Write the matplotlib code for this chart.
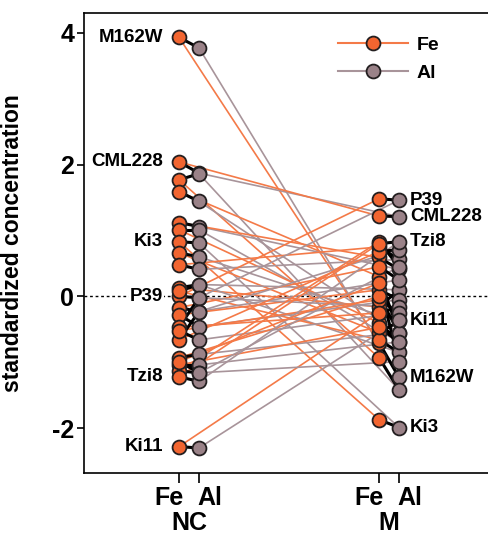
import matplotlib.pyplot as plt
import matplotlib.transforms as mtransforms
from matplotlib.lines import Line2D

plt.rcParams['font.family'] = ['Liberation Sans', 'DejaVu Sans']
plt.rcParams['font.weight'] = 'bold'

# one entry per line (inbred line), '' = not labelled
names = ['M162W', 'CML228', '', '', '', '', 'Ki3', '', '', '', 'P39', '', '',
         '', '', '', '', '', '', '', 'Tzi8', 'Ki11', '']
nc_fe = [3.93, 2.04, 1.77, 1.59, 1.12, 1.01, 0.83, 0.66, 0.48, 0.13, 0.00, 0.08,
         -0.17, -0.28, -0.47, -0.66, -0.52, -0.93, -1.04, -1.13, -1.22, -2.28, -0.99]
nc_al = [3.77, 1.87, 1.86, 1.44, 1.06, 1.01, 0.81, 0.60, 0.41, 0.18, -0.02, 0.18,
         -0.23, -0.46, -0.02, -0.23, -0.66, -0.88, -1.04, -1.16, -1.29, -2.30, -1.16]
m_fe = [-0.70, 1.22, -0.93, 0.30, 0.59, -0.40, -1.87, -0.55, 0.75, -0.16, 1.48, -0.66,
        0.45, 0.10, -0.25, 0.68, -0.05, 0.00, -0.47, 0.83, 0.80, -0.25, 0.20]
m_al = [-1.23, 1.21, -1.42, -0.55, 0.41, -0.69, -1.99, -0.38, 0.56, 0.10, 1.46, -0.85,
        0.25, -0.05, -0.16, 0.71, -0.25, -0.55, -0.69, 0.45, 0.83, -0.36, -0.99]

groups = ['NC', 'M']
elements = ['Fe', 'Al']

fe_col = '#F26530'
al_col = '#9A8288'
fe_line = '#F47A48'
al_line = '#A8949A'

x_nc_fe, x_nc_al, x_m_fe, x_m_al = 0, 1, 10, 11

fig = plt.figure(figsize=(4.88, 5.37), dpi=100)
ax = fig.add_axes([84/488, 64/537, 404/488, 460/537])

ax.axhline(0, color='k', lw=1, ls=(0, (2, 2)), zorder=0)

# connecting lines between conditions
for i in range(len(nc_fe)):
    ax.plot([x_nc_al, x_m_al], [nc_al[i], m_al[i]], color=al_line, lw=1.2, zorder=1)
    ax.plot([x_nc_fe, x_m_fe], [nc_fe[i], m_fe[i]], color=fe_line, lw=1.2, zorder=1)

# Fe-Al pairs within condition
for i in range(len(nc_fe)):
    ax.plot([x_nc_fe, x_nc_al], [nc_fe[i], nc_al[i]], color='k', lw=2.2, zorder=2)
    ax.plot([x_m_fe, x_m_al], [m_fe[i], m_al[i]], color='k', lw=2.2, zorder=2)

mk = dict(marker='o', ms=10, mec='#231f20', mew=1.3, ls='none', zorder=3)
ax.plot([x_nc_al]*len(nc_al), nc_al, mfc=al_col, **mk)
ax.plot([x_m_al]*len(m_al), m_al, mfc=al_col, **mk)
ax.plot([x_nc_fe]*len(nc_fe), nc_fe, mfc=fe_col, **mk)
ax.plot([x_m_fe]*len(m_fe), m_fe, mfc=fe_col, **mk)

for i, n in enumerate(names):
    if not n:
        continue
    ax.text(-0.8, nc_fe[i], n, ha='right', va='center', fontsize=13.5,
            bbox=dict(facecolor='white', edgecolor='none', pad=0.5), zorder=4)
    ax.text(11.55, m_al[i], n, ha='left', va='center', fontsize=13.5, zorder=4)

ax.set_xlim(-4.75, 15.45)
ax.set_ylim(-2.68, 4.30)
ax.set_yticks([-2, 0, 2, 4])
ax.set_yticklabels(['-2', '0', '2', '4'])
ax.set_xticks([x_nc_fe, x_nc_al, x_m_fe, x_m_al])
ax.set_xticklabels([])
ax.tick_params(axis='y', length=5, width=1.2, labelsize=18, pad=2)
ax.tick_params(axis='x', length=7, width=1.2)

trans = mtransforms.blended_transform_factory(ax.transData, ax.transAxes)
for x0, g in zip([x_nc_fe, x_m_fe], groups):
    ax.text(x0 + 0.25, -0.054, elements[0], transform=trans, ha='right', va='center', fontsize=18)
    ax.text(x0 + 0.9, -0.054, elements[1], transform=trans, ha='left', va='center', fontsize=18)
    ax.text(x0 + 0.5, -0.108, g, transform=trans, ha='center', va='center', fontsize=18)

ax.set_ylabel('standardized concentration', fontsize=16.5, fontweight='bold')
ax.yaxis.set_label_coords(-0.1485, 0.5)

ax.spines['right'].set_visible(False)
for s in ['left', 'top', 'bottom']:
    ax.spines[s].set_linewidth(1.2)

handles = [Line2D([0], [0], color=fe_line, lw=1.5, marker='o', ms=10,
                  mfc=fe_col, mec='#231f20', mew=1.3, label='Fe'),
           Line2D([0], [0], color=al_line, lw=1.5, marker='o', ms=10,
                  mfc=al_col, mec='#231f20', mew=1.3, label='Al')]
ax.legend(handles=handles, loc='upper left', bbox_to_anchor=(0.629, 0.95),
          frameon=False, fontsize=14, handlelength=3.6, handletextpad=0.45,
          labelspacing=0.55, borderpad=0, borderaxespad=0)

fig.savefig('out.png', dpi=100)
